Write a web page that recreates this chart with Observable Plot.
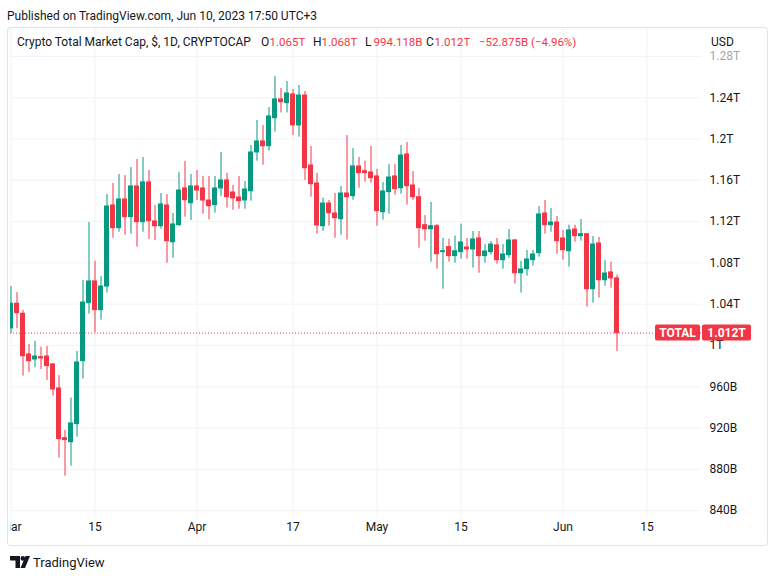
<!DOCTYPE html>
<html><head><meta charset="utf-8">
<script src="https://cdn.jsdelivr.net/npm/d3@7"></script>
<script src="https://cdn.jsdelivr.net/npm/@observablehq/plot@0.6"></script>
<style>
html,body{margin:0;padding:0;background:#fff;}
#chart svg{display:block;}
</style></head><body><div id="chart"></div>
<script>
// ---- data (values in billions USD) ----
const startDate = "2023-03-01";
const open = [1016.5,1040.4,1030.7,991.3,986.4,988.7,989.3,981.6,958.4,910.2,
906.3,923.8,984.8,1041,1062,1034.2,1057.1,1135.6,1113.6,1141.4,
1124.3,1154,1119.4,1157.9,1120.1,1115.5,1135.6,1100,1116.5,1152.1,
1137.8,1154,1152.1,1140.4,1135.9,1152.1,1159.8,1148.2,1143.3,1140.4,
1149.4,1186.9,1197.6,1193,1220.1,1238.3,1234.7,1243.1,1213.1,1242.1,
1174.3,1156.9,1115.5,1137.5,1127.8,1122.3,1147.2,1144.6,1173.4,1168.8,
1167.6,1163.7,1129.1,1148.5,1163.7,1152.3,1185,1155,1143.6,1116.5,
1112.6,1115.5,1090.4,1095.2,1086.5,1090.4,1094.9,1093,1103.6,1086.5,
1090.4,1096.9,1082.6,1087.5,1101.7,1070,1073.9,1082.6,1089.4,1127.8,
1116.5,1119.1,1103.6,1091.3,1112.3,1105.9,1107.8,1054.5,1098.8,1063.2,
1070.7,1065];
const high = [1057.1,1051.3,1033.9,1001,1003.9,998.4,999,982.6,970.9,917.7,
949,994.2,1063,1119.1,1081.6,1066.8,1146.2,1156.9,1165.6,1164.6,
1172.4,1180.1,1182.1,1169.5,1135.6,1147.2,1146.2,1127.8,1167.6,1178.2,
1165.6,1169.5,1163.7,1163.7,1163.7,1186.9,1166.6,1155,1163.7,1158.8,
1193.7,1217.9,1213,1230.5,1260.5,1248.9,1255.7,1247.9,1251.8,1246,
1192.7,1166.6,1142.7,1140.4,1147.2,1154,1203.4,1190.8,1182.1,1178.5,
1192.7,1170.5,1157.9,1175.3,1175.3,1193.7,1196.6,1168.5,1152.1,1125.9,
1138.5,1117.2,1103.9,1102.9,1105.9,1117.5,1103.6,1110.4,1110.4,1097.8,
1100.7,1103.6,1097.8,1112.3,1102.7,1081.4,1092,1092,1134.6,1140.4,
1132.7,1124.9,1111.4,1116.5,1116.5,1122,1107.8,1105.6,1104.6,1082.3,
1080.7,1068];
const low = [1011.6,1016.2,970.3,974.1,978.4,976.8,966.1,950.9,890.9,873.4,
883.1,911.2,967.4,1030.3,1012.3,1024.5,1050.7,1103.9,1109.7,1106.8,
1107.8,1095.2,1109.7,1102.7,1101.7,1112.6,1079.7,1084.5,1115.5,1124.3,
1121.1,1140.4,1127.2,1121.7,1128.1,1144.3,1133,1131,1132,1132,
1139.8,1178.5,1174.6,1188.2,1206.6,1225.2,1225.2,1203.4,1201.7,1159.8,
1143.6,1107.8,1110.4,1115.5,1103.9,1106.8,1102,1140.7,1152.3,1158.2,
1157.2,1115.5,1121.4,1127.2,1145.6,1146.5,1135.9,1140.7,1094.2,1101,
1080.7,1073.9,1054.5,1080.7,1079.7,1083.6,1083.6,1074.9,1070,1079.7,
1087.5,1078.7,1073.9,1084.5,1059.4,1050.7,1067.1,1076.8,1085.5,1107.8,
1109.7,1088.4,1082.6,1075.8,1100,1101,1037.1,1041,1045.8,1057.4,
1055.5,994.118];
const close = [1040.4,1031.3,989.6,984.8,989.3,987.4,980,957.4,909.3,908.3,
924.5,983.5,1041.6,1062,1034.2,1057.1,1134.6,1113.6,1141.4,1124.3,
1154,1119.4,1157.9,1120.4,1115.5,1136.6,1101,1117.2,1150.1,1140.7,
1154,1150.1,1140.4,1134.9,1152.1,1159.8,1143.6,1142.4,1139.8,1151.1,
1186.9,1197.6,1193,1221.8,1238.3,1235.6,1244.1,1213.1,1242.1,1171.7,
1156.2,1116.2,1137.5,1128.1,1123.3,1147.2,1143.6,1173.4,1166.9,1166.9,
1162,1130.1,1149.1,1162.7,1151.4,1184,1154.3,1143.6,1113.6,1112.6,
1115.5,1088.4,1091.3,1086.5,1091.3,1099.8,1093,1102.7,1086.5,1091,
1097.8,1082.6,1088.1,1101.7,1070,1073.6,1083.3,1088.1,1126.9,1116.5,
1119.1,1101,1092.3,1111.4,1105.9,1107.8,1054.5,1097.8,1063.2,1069.7,
1064.9,1012];

const yTickValues = [840,880,920,960,1000,1040,1080,1120,1160,1200,1240,1280];
const yTickLabels = ["840B","880B","920B","960B","1T","1.04T","1.08T","1.12T","1.16T","1.2T","1.24T","1.28T"];
const timeTickDates = ["2023-03-01","2023-03-15","2023-04-01","2023-04-17","2023-05-01","2023-05-15","2023-06-01","2023-06-15"];
const timeTickLabels = ["Mar","15","Apr","17","May","15","Jun","15"];

const publishedText = "Published on TradingView.com, Jun 10, 2023 17:50 UTC+3";
const symbolText = "Crypto Total Market Cap, $, 1D, CRYPTOCAP";
const ohlcKeys = ["O","H","L","C"];
const ohlcTexts = ["1.065T","1.068T","994.118B","1.012T"];
const changeText = "\u221252.875B (\u22124.96%)";
const currencyText = "USD";
const symbolTag = "TOTAL";
const lastPriceText = "1.012T";

// ---- chart ----
const UP = "#089981", DOWN = "#F23645", INK = "#131722", GRID = "#f0f3fa";
const candles = open.map((o, i) => ({
  date: d3.utcDay.offset(new Date(startDate), i),
  open: o, high: high[i], low: low[i], close: close[i]
}));
const t0 = d3.utcHour.offset(new Date(startDate), -2);
const t1 = new Date(+t0 + (691 / 6) * 864e5);
const colorOf = d => d.close >= d.open ? UP : DOWN;
const lastClose = close[close.length - 1];

const chart = Plot.plot({
  width: 777, height: 579,
  marginLeft: 10, marginRight: 76, marginTop: 28, marginBottom: 61,
  style: {fontFamily: "Roboto, sans-serif", fontSize: "12px", color: INK, background: "#fff"},
  x: {type: "utc", domain: [t0, t1], axis: null},
  y: {domain: [832.4, 1307], axis: null},
  marks: [
    Plot.ruleY(yTickValues, {stroke: GRID}),
    Plot.ruleX(timeTickDates.map(d => new Date(d)), {stroke: GRID}),
    Plot.ruleX(candles, {x: "date", y1: "low", y2: "high", stroke: colorOf, strokeWidth: 1, clip: true}),
    Plot.rect(candles, {
      x1: d => d3.utcHour.offset(d.date, -10), x2: d => d3.utcHour.offset(d.date, 10),
      y1: "open", y2: "close", fill: colorOf, inset: 0, insetTop: -0.5, insetBottom: -0.5, clip: true
    }),
    Plot.ruleY([lastClose], {stroke: DOWN, strokeDasharray: "1,2", strokeWidth: 1}),
    Plot.text(yTickValues, {
      y: d => d, text: (d, i) => yTickLabels[i], frameAnchor: "right", textAnchor: "start", dx: 8,
      fill: d => d === 1280 ? "#a3a6af" : INK
    }),
    Plot.text(timeTickDates, {
      x: d => new Date(d), text: (d, i) => timeTickLabels[i], frameAnchor: "bottom", dy: 12, fill: INK
    })
  ]
});
document.getElementById("chart").appendChild(chart);

// ---- decorations ----
const svg = d3.select(chart);
// hide the part of the first time label that lies left of the pane
svg.append("rect").attr("x", 0).attr("y", 518).attr("width", 10).attr("height", 26).attr("fill", "#fff");

// outer frame
svg.append("rect").attr("x", 7.5).attr("y", 27.5).attr("width", 760).attr("height", 518)
  .attr("rx", 3).attr("fill", "none").attr("stroke", "#e0e3eb");

// published line
svg.append("text").attr("x", 7).attr("y", 19.5).attr("text-anchor", "start").attr("fill", INK).attr("font-size", 12)
  .text(publishedText);

// legend
const lg = svg.append("text").attr("x", 17).attr("y", 45.5).attr("text-anchor", "start").attr("font-size", 12).attr("fill", INK);
lg.append("tspan").text(symbolText);
const keyX = [261, 313, 365, 426];
ohlcKeys.forEach((k, i) => {
  lg.append("tspan").attr("x", keyX[i]).attr("fill", INK).text(k);
  lg.append("tspan").attr("x", keyX[i] + 8.5).attr("fill", DOWN).attr("font-size", 11.5).text(ohlcTexts[i]);
});
lg.append("tspan").attr("x", 479).attr("fill", DOWN).attr("font-size", 11.5).text(changeText);

svg.append("text").attr("x", 711).attr("y", 45.5).attr("text-anchor", "start").attr("font-size", 12).attr("fill", INK).text(currencyText);

// last price labels
const yPos = chart.scale("y").apply(lastClose);
const g = svg.append("g");
g.append("rect").attr("x", 655).attr("y", yPos - 8).attr("width", 45).attr("height", 16).attr("rx", 2).attr("fill", DOWN);
g.append("rect").attr("x", 702).attr("y", yPos - 8).attr("width", 49).attr("height", 16).attr("rx", 2).attr("fill", DOWN);
g.append("text").attr("x", 677.5).attr("y", yPos + 4.2).attr("text-anchor", "middle").attr("fill", "#fff")
  .attr("font-size", 12).attr("font-weight", 700).text(symbolTag);
g.append("text").attr("x", 726.5).attr("y", yPos + 4.2).attr("text-anchor", "middle").attr("fill", "#fff")
  .attr("font-size", 12).attr("font-weight", 700).text(lastPriceText);

// TradingView logo + wordmark
const logo = svg.append("g").attr("fill", INK);
logo.append("path").attr("d", "M10,556 H20 V568 H15.5 V560.5 H10 Z");
logo.append("circle").attr("cx", 22.8).attr("cy", 558.4).attr("r", 2.3);
logo.append("path").attr("d", "M25.5,556 H30 L25,568 H20.5 Z");
svg.append("text").attr("x", 33).attr("y", 566.5).attr("text-anchor", "start").attr("font-size", 13).attr("fill", INK).text("TradingView");
</script></body></html>
